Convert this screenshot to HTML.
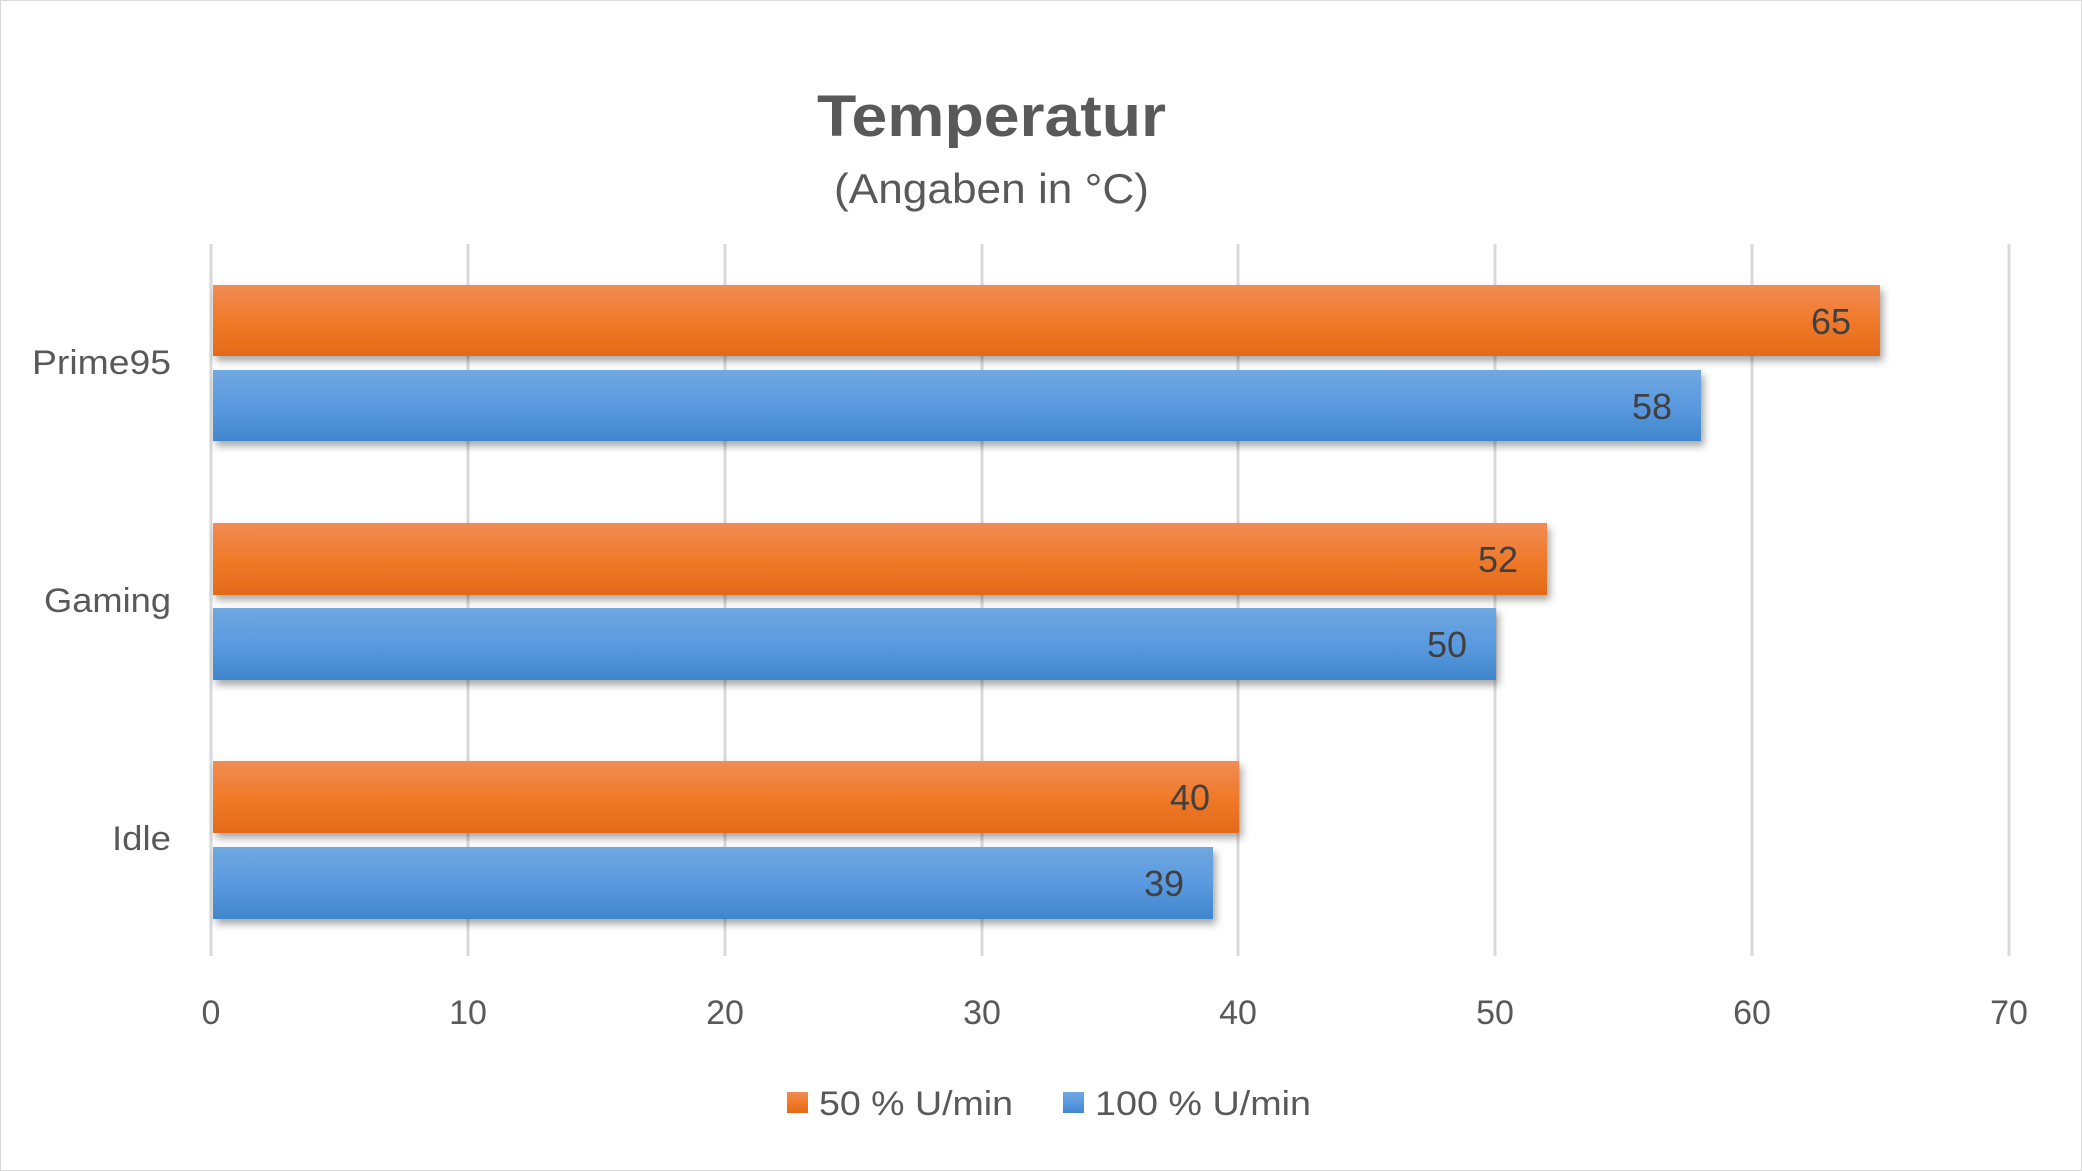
<!DOCTYPE html>
<html><head><meta charset="utf-8"><style>
html,body{margin:0;padding:0;background:#fff;}
svg{display:block;}
text{font-family:"Liberation Sans",sans-serif;fill:#595959;}
</style></head><body>
<svg width="2082" height="1171" viewBox="0 0 2082 1171" xmlns="http://www.w3.org/2000/svg">
<defs>
<linearGradient id="o" x1="0" y1="0" x2="0" y2="1">
<stop offset="0" stop-color="#f08c55"/><stop offset="0.5" stop-color="#f07a2a"/><stop offset="1" stop-color="#e36a18"/></linearGradient>
<linearGradient id="b" x1="0" y1="0" x2="0" y2="1">
<stop offset="0" stop-color="#70a8e0"/><stop offset="0.5" stop-color="#5a9ae0"/><stop offset="1" stop-color="#3f86cc"/></linearGradient>
<filter id="s" x="-5%" y="-30%" width="110%" height="160%"><feDropShadow dx="3" dy="5" stdDeviation="4" flood-color="#000" flood-opacity="0.35"/></filter>
</defs>
<rect x="0.5" y="0.5" width="2081" height="1170" fill="#fff" stroke="#d9d9d9"/>
<text x="817" y="136" font-size="58" font-weight="bold" textLength="349" lengthAdjust="spacingAndGlyphs">Temperatur</text>
<text x="834" y="203" font-size="42" textLength="315" lengthAdjust="spacingAndGlyphs">(Angaben in °C)</text>
<g stroke="#d9d9d9" stroke-width="3">
<line x1="211" y1="244" x2="211" y2="956"/><line x1="468" y1="244" x2="468" y2="956"/>
<line x1="725" y1="244" x2="725" y2="956"/><line x1="982" y1="244" x2="982" y2="956"/>
<line x1="1238" y1="244" x2="1238" y2="956"/><line x1="1495" y1="244" x2="1495" y2="956"/>
<line x1="1752" y1="244" x2="1752" y2="956"/><line x1="2009" y1="244" x2="2009" y2="956"/>
</g>
<g filter="url(#s)">
<rect x="213" y="285" width="1667" height="71" fill="url(#o)"/>
<rect x="213" y="370" width="1488" height="71" fill="url(#b)"/>
<rect x="213" y="523" width="1334" height="72" fill="url(#o)"/>
<rect x="213" y="608" width="1283" height="72" fill="url(#b)"/>
<rect x="213" y="761" width="1026" height="72" fill="url(#o)"/>
<rect x="213" y="847" width="1000" height="72" fill="url(#b)"/>
</g>
<g font-size="36" text-anchor="end">
<text x="1851" y="334" style="fill:#404040">65</text>
<text x="1672" y="419" style="fill:#404040">58</text>
<text x="1518" y="572" style="fill:#404040">52</text>
<text x="1467" y="657" style="fill:#404040">50</text>
<text x="1210" y="810" style="fill:#404040">40</text>
<text x="1184" y="896" style="fill:#404040">39</text>
</g>
<g font-size="34">
<text x="32" y="374" textLength="139" lengthAdjust="spacingAndGlyphs">Prime95</text>
<text x="44" y="612" textLength="127" lengthAdjust="spacingAndGlyphs">Gaming</text>
<text x="112" y="850" textLength="59" lengthAdjust="spacingAndGlyphs">Idle</text>
</g>
<g font-size="34" text-anchor="middle">
<text x="211" y="1024">0</text><text x="468" y="1024">10</text><text x="725" y="1024">20</text>
<text x="982" y="1024">30</text><text x="1238" y="1024">40</text><text x="1495" y="1024">50</text>
<text x="1752" y="1024">60</text><text x="2009" y="1024">70</text>
</g>
<rect x="787" y="1092" width="21" height="21" fill="url(#o)"/>
<text x="819" y="1115" font-size="34" textLength="194" lengthAdjust="spacingAndGlyphs">50 % U/min</text>
<rect x="1063" y="1092" width="21" height="21" fill="url(#b)"/>
<text x="1095" y="1115" font-size="34" textLength="216" lengthAdjust="spacingAndGlyphs">100 % U/min</text>
</svg>
</body></html>
